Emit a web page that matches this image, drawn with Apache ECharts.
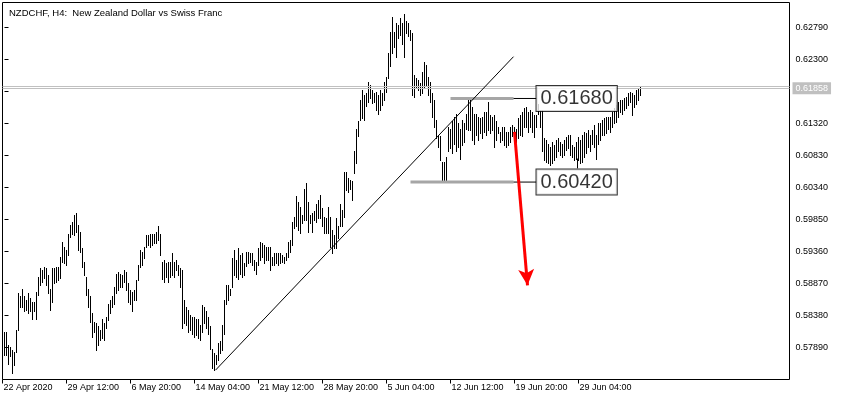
<!DOCTYPE html>
<html><head><meta charset="utf-8">
<script src="https://cdn.jsdelivr.net/npm/echarts@6/dist/echarts.min.js"></script>
<style>html,body{margin:0;padding:0;background:#fff}#c{width:842px;height:400px}</style>
</head><body><div id="c"></div>
<script>
const chartTitle = 'NZDCHF, H4:  New Zealand Dollar vs Swiss Franc';
const highs = [
0.5813,0.5813,0.5793,0.5790,0.5785,0.5782,0.5816,0.5872,0.5867,0.5879,
0.5867,0.5861,0.5872,0.5864,0.5859,0.5859,0.5874,0.5897,0.5910,0.5907,
0.5912,0.5910,0.5900,0.5879,0.5910,0.5910,0.5912,0.5912,0.5928,0.5951,
0.5943,0.5938,0.5963,0.5976,0.5981,0.5992,0.5994,0.5976,0.5966,0.5941,
0.5920,0.5897,0.5879,0.5867,0.5841,0.5828,0.5826,0.5821,0.5816,0.5833,
0.5826,0.5836,0.5856,0.5861,0.5867,0.5882,0.5902,0.5905,0.5902,0.5900,
0.5907,0.5905,0.5887,0.5877,0.5874,0.5877,0.5892,0.5915,0.5938,0.5935,
0.5943,0.5961,0.5961,0.5963,0.5963,0.5963,0.5966,0.5974,0.5963,0.5920,
0.5923,0.5918,0.5920,0.5920,0.5933,0.5920,0.5923,0.5915,0.5910,0.5907,
0.5861,0.5851,0.5846,0.5838,0.5836,0.5836,0.5833,0.5833,0.5823,0.5854,
0.5851,0.5844,0.5836,0.5821,0.5787,0.5780,0.5777,0.5795,0.5798,0.5823,
0.5861,0.5884,0.5884,0.5879,0.5925,0.5938,0.5923,0.5941,0.5930,0.5933,
0.5918,0.5935,0.5935,0.5933,0.5933,0.5923,0.5920,0.5941,0.5951,0.5948,
0.5946,0.5943,0.5943,0.5943,0.5928,0.5933,0.5934,0.5933,0.5933,0.5930,
0.5928,0.5933,0.5951,0.5953,0.5981,0.5989,0.6020,0.6012,0.6004,0.5992,
0.6032,0.6040,0.6012,0.5992,0.5994,0.5997,0.6009,0.6015,0.6022,0.6002,
0.5989,0.5987,0.6004,0.5989,0.5969,0.5961,0.5987,0.5974,0.6009,0.5999,
0.6058,0.6058,0.6048,0.6045,0.6043,0.6089,0.6124,0.6135,0.6168,0.6183,
0.6175,0.6178,0.6196,0.6191,0.6183,0.6178,0.6180,0.6175,0.6183,0.6178,
0.6196,0.6203,0.6239,0.6272,0.6295,0.6272,0.6285,0.6283,0.6293,0.6285,
0.6300,0.6288,0.6285,0.6275,0.6270,0.6206,0.6201,0.6198,0.6193,0.6211,
0.6226,0.6221,0.6203,0.6196,0.6178,0.6168,0.6137,0.6114,0.6112,0.6073,
0.6073,0.6081,0.6127,0.6124,0.6135,0.6142,0.6147,0.6132,0.6124,0.6137,
0.6132,0.6147,0.6168,0.6173,0.6157,0.6147,0.6147,0.6142,0.6140,0.6142,
0.6150,0.6150,0.6165,0.6145,0.6142,0.6145,0.6135,0.6127,0.6119,0.6127,
0.6127,0.6119,0.6119,0.6127,0.6130,0.6127,0.6124,0.6140,0.6145,0.6150,
0.6155,0.6157,0.6150,0.6152,0.6150,0.6145,0.6145,0.6162,0.6152,0.6152,
0.6109,0.6106,0.6101,0.6096,0.6104,0.6099,0.6106,0.6109,0.6104,0.6101,
0.6106,0.6111,0.6114,0.6114,0.6099,0.6096,0.6104,0.6111,0.6106,0.6114,
0.6119,0.6117,0.6122,0.6114,0.6122,0.6129,0.6114,0.6132,0.6132,0.6137,
0.6140,0.6142,0.6142,0.6142,0.6150,0.6155,0.6160,0.6165,0.6168,0.6168,
0.6170,0.6173,0.6178,0.6180,0.6178,0.6175,0.6183,0.6185,0.6189
];
const lows = [
0.5777,0.5777,0.5764,0.5775,0.5749,0.5762,0.5782,0.5816,0.5851,0.5851,
0.5844,0.5846,0.5841,0.5844,0.5833,0.5844,0.5833,0.5869,0.5884,0.5889,
0.5895,0.5884,0.5872,0.5846,0.5859,0.5887,0.5889,0.5892,0.5895,0.5920,
0.5918,0.5915,0.5930,0.5958,0.5963,0.5961,0.5966,0.5938,0.5935,0.5912,
0.5900,0.5869,0.5851,0.5828,0.5805,0.5813,0.5785,0.5792,0.5800,0.5803,
0.5800,0.5818,0.5831,0.5841,0.5851,0.5856,0.5872,0.5877,0.5882,0.5882,
0.5889,0.5877,0.5859,0.5856,0.5844,0.5861,0.5861,0.5892,0.5912,0.5915,
0.5925,0.5943,0.5946,0.5943,0.5946,0.5948,0.5948,0.5953,0.5930,0.5894,
0.5889,0.5897,0.5889,0.5897,0.5900,0.5897,0.5907,0.5900,0.5882,0.5818,
0.5826,0.5823,0.5813,0.5816,0.5810,0.5805,0.5808,0.5803,0.5800,0.5813,
0.5826,0.5818,0.5810,0.5787,0.5757,0.5754,0.5764,0.5770,0.5780,0.5785,
0.5810,0.5856,0.5861,0.5869,0.5882,0.5900,0.5897,0.5894,0.5902,0.5897,
0.5900,0.5913,0.5918,0.5920,0.5915,0.5907,0.5902,0.5915,0.5923,0.5928,
0.5918,0.5923,0.5923,0.5907,0.5915,0.5915,0.5918,0.5915,0.5918,0.5920,
0.5918,0.5923,0.5928,0.5935,0.5946,0.5971,0.5974,0.5969,0.5964,0.5979,
0.5984,0.5984,0.5966,0.5979,0.5966,0.5984,0.5981,0.5987,0.5987,0.5974,
0.5964,0.5964,0.5964,0.5943,0.5933,0.5941,0.5941,0.5956,0.5974,0.5974,
0.5989,0.6030,0.6027,0.6032,0.6015,0.6056,0.6071,0.6112,0.6137,0.6140,
0.6137,0.6158,0.6165,0.6170,0.6163,0.6165,0.6152,0.6147,0.6152,0.6160,
0.6168,0.6180,0.6201,0.6219,0.6239,0.6249,0.6234,0.6262,0.6267,0.6254,
0.6234,0.6270,0.6265,0.6260,0.6175,0.6173,0.6186,0.6183,0.6175,0.6178,
0.6186,0.6191,0.6175,0.6165,0.6142,0.6127,0.6109,0.6096,0.6076,0.6042,
0.6042,0.6045,0.6089,0.6094,0.6086,0.6101,0.6089,0.6096,0.6078,0.6099,
0.6104,0.6124,0.6122,0.6122,0.6106,0.6101,0.6114,0.6106,0.6117,0.6109,
0.6119,0.6114,0.6122,0.6117,0.6122,0.6096,0.6106,0.6117,0.6104,0.6106,
0.6099,0.6096,0.6099,0.6104,0.6112,0.6104,0.6104,0.6109,0.6114,0.6112,
0.6127,0.6127,0.6119,0.6127,0.6119,0.6111,0.6127,0.6147,0.6127,0.6089,
0.6076,0.6073,0.6071,0.6068,0.6071,0.6076,0.6081,0.6089,0.6083,0.6081,
0.6083,0.6091,0.6094,0.6083,0.6081,0.6076,0.6078,0.6076,0.6071,0.6073,
0.6081,0.6086,0.6096,0.6089,0.6101,0.6096,0.6078,0.6101,0.6106,0.6114,
0.6114,0.6117,0.6124,0.6119,0.6127,0.6132,0.6134,0.6142,0.6150,0.6147,
0.6152,0.6155,0.6160,0.6165,0.6145,0.6157,0.6162,0.6168,0.6175
];
const timeLabels = ['22 Apr 2020','29 Apr 12:00','6 May 20:00','14 May 04:00','21 May 12:00','28 May 20:00','5 Jun 04:00','12 Jun 12:00','19 Jun 20:00','29 Jun 04:00'];
const timeLabelBars = [-1,31,63,95,127,159,191,223,255,287];
const priceTicks = [0.5789,0.5838,0.5887,0.5936,0.5985,0.6034,0.6083,0.6132,0.6181,0.6230,0.6279];
const bidPrice = 0.61858;
const askPrice = 0.61888;
const levelHighText = '0.61680';
const levelLowText = '0.60420';
const levelHighLine = 0.6170;
const levelLowLine = 0.6042;
const levelHighStart = 223;
const levelLowStart = 203;
const levelEnd = 254.5;
const labelBar = 266;
const lowLabelAnchorBar = 286.5;
const lowLabelAnchorPrice = 0.6078;
const lowLabelBoxTop = 0.6063;
const trendLine = [[105.5, 0.5754],[254.5, 0.6234]];
const arrowLine = [[255, 0.6119],[261.5, 0.5884]];

const FONT = 'Liberation Sans';
const chart = echarts.init(document.getElementById('c'), null, {renderer:'canvas'});
const bars = highs.map((h,i)=>[i,h,lows[i]]);
const lineSeries = (data, color, width, z) => ({
  type:'line', data, symbol:'none', silent:true, animation:false, z,
  lineStyle:{color, width}, clip:false
});
chart.setOption({
  animation:false,
  backgroundColor:'#fff',
  title:{text:chartTitle,left:4,top:3,textStyle:{fontFamily:FONT,fontSize:9.5,fontWeight:'normal',color:'#000'}},
  grid:{left:2.5,top:2.5,right:52.5,bottom:20.5,show:true,borderColor:'#000',borderWidth:1,backgroundColor:'transparent'},
  xAxis:{type:'value',min:-1,max:392.5,axisLine:{show:false},splitLine:{show:false},
    axisTick:{show:true,length:4,customValues:timeLabelBars,lineStyle:{color:'#000'}},
    axisLabel:{customValues:timeLabelBars,align:'left',margin:4,padding:[0,0,0,1],fontFamily:FONT,fontSize:9,color:'#000',
      formatter:v=>{const j=timeLabelBars.indexOf(Math.round(v));return j>=0?timeLabels[j]:'';}}},
  yAxis:{type:'value',position:'right',min:0.573969,max:0.631697,scale:true,axisLine:{show:false},splitLine:{show:false},
    axisTick:{show:true,length:4,customValues:priceTicks,lineStyle:{color:'#000'}},
    axisLabel:{customValues:priceTicks,margin:6,fontFamily:FONT,fontSize:9,color:'#000',formatter:v=>v.toFixed(5)}},
  series:[
    {type:'line',data:[],silent:true,z:1,
     markLine:{silent:true,animation:false,precision:5,symbol:['none','none'],
       data:[
        {yAxis:askPrice,lineStyle:{color:'#c0c0c0',width:1,type:'solid'},label:{show:false}},
        {yAxis:bidPrice,lineStyle:{color:'#c0c0c0',width:1,type:'solid'},
         label:{show:true,position:'end',distance:3,formatter:bidPrice.toFixed(5),backgroundColor:'#c0c0c0',color:'#fff',padding:[2,3,1,3],fontFamily:FONT,fontSize:9}}
       ]}},
    {type:'custom',silent:true,animation:false,z:2,clip:true,
     data:bars,encode:{x:0,y:[1,2]},
     renderItem:(params,api)=>{
       const k=api.value(0);
       const a=api.coord([k,api.value(1)]);
       const b=api.coord([k,api.value(2)]);
       const px=Math.floor(a[0])+0.5;
       return {type:'line',shape:{x1:px,y1:Math.round(a[1]),x2:px,y2:Math.round(b[1])+1},style:{stroke:'#000',lineWidth:1}};
     }},
    lineSeries(trendLine,'#000',1,5),
    lineSeries([[levelHighStart,levelHighLine],[levelEnd,levelHighLine]],'#a6a6a6',3,4),
    lineSeries([[levelLowStart,levelLowLine],[levelEnd,levelLowLine]],'#a6a6a6',3,4),
    lineSeries([[levelEnd,levelHighLine],[labelBar,levelHighLine]],'#000',1,4),
    lineSeries([[levelEnd,levelLowLine],[labelBar,levelLowLine]],'#000',1,4),
    lineSeries([[lowLabelAnchorBar,lowLabelAnchorPrice],[lowLabelAnchorBar,lowLabelBoxTop]],'#000',1,4),
    {type:'line',data:[],silent:true,z:6,
     markLine:{silent:true,animation:false,precision:5,symbol:['none','arrow'],symbolSize:[12,16],
       lineStyle:{color:'#ff0000',width:3,type:'solid'},label:{show:false},
       data:[[{coord:arrowLine[0]},{coord:arrowLine[1]}]]}},
    {type:'scatter',silent:true,animation:false,z:8,symbolSize:0,
     data:[{value:[labelBar,levelHighLine],name:levelHighText},{value:[labelBar,levelLowLine],name:levelLowText}],
     label:{show:true,position:'right',distance:0,formatter:p=>p.name,fontFamily:FONT,fontSize:20,color:'#000',
       backgroundColor:'#fff',borderColor:'#000',borderWidth:1,padding:[3,4,2,4]}}
  ]
});
</script></body></html>
